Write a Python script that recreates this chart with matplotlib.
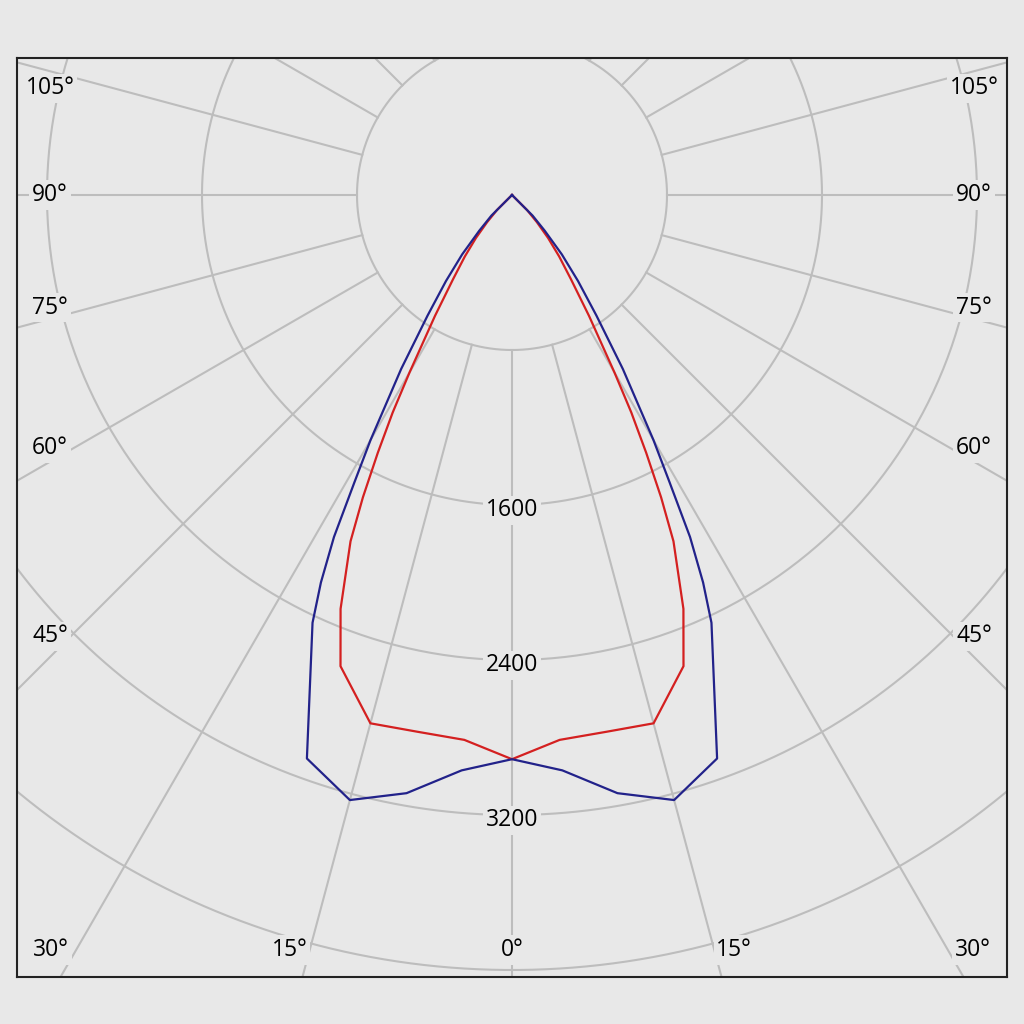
import numpy as np
import matplotlib.pyplot as plt

plt.rcParams['font.family'] = ['Open Sans', 'DejaVu Sans']

ang_blue = [0, 5, 10, 15, 20, 25, 26.25, 27.5, 28.75, 30, 32.5, 35, 37.5, 40, 42.5, 45, 50, 60, 70, 80, 90]
cd_blue = [2912, 2981, 3135, 3233, 3095, 2436, 2230, 1990, 1690, 1460, 1065, 760, 560, 400, 250, 150, 0, 0, 0, 0, 0]

ang_red = [0, 5, 10, 15, 20, 22.5, 25, 26.25, 27.5, 28.75, 30, 32.5, 35, 37.5, 40, 42.5, 45, 50, 60, 70, 80, 90]
cd_red = [2912, 2823, 2813, 2823, 2588, 2312, 1972, 1740, 1500, 1280, 1058, 740, 530, 400, 290, 190, 110, 0, 0, 0, 0, 0]

rings = [800, 1600, 2400, 3200, 4000, 4800, 5600]
ring_labels = [1600, 2400, 3200]
side_angles = [45, 60, 75, 90, 105]
bottom_angles = [0, 15, 30]

bg = '#e8e8e8'
grid_c = '#bdbdbd'
px = 1 / 0.19375  # cd por pixel


def to_xy(ang, cd):
    # espelha a metade lida para o outro lado (curva simetrica)
    a = np.array(ang, dtype=float)
    v = np.array(cd, dtype=float)
    a_full = np.concatenate([-a[::-1], a[1:]])
    v_full = np.concatenate([v[::-1], v[1:]])
    t = np.radians(a_full)
    return v_full * np.sin(t), -v_full * np.cos(t)


fig = plt.figure(figsize=(10.24, 10.24), dpi=100, facecolor=bg)
ax = fig.add_axes([17 / 1024, 47 / 1024, 990 / 1024, 919 / 1024])
ax.set_facecolor(bg)
ax.set_xlim((17 - 512) * px, (1007 - 512) * px)
ax.set_ylim(-(977 - 195) * px, (195 - 58) * px)
ax.set_xticks([])
ax.set_yticks([])
for s in ax.spines.values():
    s.set_color('#222222')
    s.set_linewidth(1.5)

# circulos
t = np.linspace(0, 2 * np.pi, 721)
for r in rings:
    ax.plot(r * np.cos(t), r * np.sin(t), color=grid_c, lw=1.5, zorder=1)

# raios a cada 15 graus
for a in range(0, 360, 15):
    ar = np.radians(a)
    ax.plot([800 * np.sin(ar), 7000 * np.sin(ar)], [-800 * np.cos(ar), -7000 * np.cos(ar)],
            color=grid_c, lw=1.5, zorder=1)

box = dict(facecolor=bg, edgecolor='none', pad=2)
fs = 16.5

for v in ring_labels:
    ax.text(0, -v - 28, str(v), ha='center', va='center', fontsize=fs,
            color='#000000', bbox=box, zorder=3)

# rotulos de angulo nas laterais
x_side = (512 - 50) * px
for a in side_angles:
    a2 = a + 1.3 if a <= 90 else a - 2
    y = -x_side / np.tan(np.radians(a2)) if a != 90 else 0
    for sgn in (-1, 1):
        ax.text(sgn * x_side, y, f'{a}°', ha='center', va='center', fontsize=fs,
                color='#000000', bbox=box, zorder=3)

# rotulos de angulo embaixo
y_bot = -(950 - 195) * px
for a in bottom_angles:
    a2 = a + 1.4 if a > 0 else 0
    xb = -y_bot * np.tan(np.radians(a2))
    for sgn in ((-1, 1) if a > 0 else (1,)):
        ax.text(sgn * xb, y_bot, f'{a}°', ha='center', va='center', fontsize=fs,
                color='#000000', bbox=box, zorder=3)

xb_, yb_ = to_xy(ang_blue, cd_blue)
xr_, yr_ = to_xy(ang_red, cd_red)
ax.plot(xr_, yr_, color='#d42020', lw=1.6, zorder=4)
ax.plot(xb_, yb_, color='#22228a', lw=1.6, zorder=5)

fig.savefig('out.png', dpi=100, facecolor=bg)
